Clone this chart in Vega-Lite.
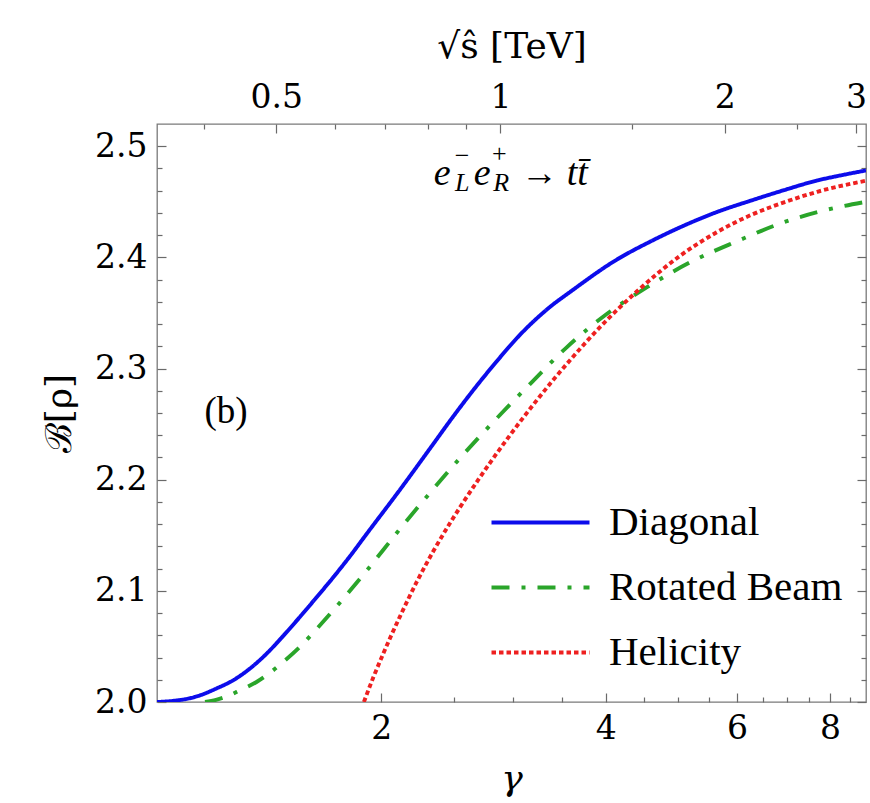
{
  "$schema": "https://vega.github.io/schema/vega-lite/v6.json",
  "width": 709,
  "height": 578,
  "autosize": {"type": "none"},
  "padding": {"left": 157, "top": 124, "right": 4, "bottom": 101},
  "background": "white",
  "config": {
    "font": "serif",
    "view": {"stroke": "#7a7a7a", "strokeWidth": 1.3},
    "axis": {
      "labelFont": "DejaVu Serif",
      "titleFont": "DejaVu Serif",
      "labelFontSize": 33,
      "titleFontSize": 36,
      "titleFontWeight": "normal",
      "labelColor": "#000000",
      "titleColor": "#000000",
      "tickColor": "#6a6a6a",
      "tickWidth": 1.2,
      "domain": false,
      "grid": false,
      "labelFlush": false,
      "labelOverlap": false,
      "labelPadding": 19
    },
    "legend": {
      "labelFont": "serif",
      "labelFontSize": 41,
      "labelColor": "#000000"
    }
  },
  "datasets": {
    "curves": [
      {"basis": "Diagonal", "gamma": 1.0, "B": 2.0},
      {"basis": "Diagonal", "gamma": 1.05, "B": 2.001},
      {"basis": "Diagonal", "gamma": 1.1, "B": 2.003},
      {"basis": "Diagonal", "gamma": 1.142, "B": 2.006},
      {"basis": "Diagonal", "gamma": 1.2, "B": 2.012},
      {"basis": "Diagonal", "gamma": 1.265, "B": 2.0195},
      {"basis": "Diagonal", "gamma": 1.332, "B": 2.03},
      {"basis": "Diagonal", "gamma": 1.403, "B": 2.0435},
      {"basis": "Diagonal", "gamma": 1.477, "B": 2.0595},
      {"basis": "Diagonal", "gamma": 1.555, "B": 2.0765},
      {"basis": "Diagonal", "gamma": 1.634, "B": 2.0935},
      {"basis": "Diagonal", "gamma": 1.724, "B": 2.1122},
      {"basis": "Diagonal", "gamma": 1.815, "B": 2.1311},
      {"basis": "Diagonal", "gamma": 1.912, "B": 2.1514},
      {"basis": "Diagonal", "gamma": 2.119, "B": 2.1911},
      {"basis": "Diagonal", "gamma": 2.349, "B": 2.2323},
      {"basis": "Diagonal", "gamma": 2.486, "B": 2.2551},
      {"basis": "Diagonal", "gamma": 2.631, "B": 2.2769},
      {"basis": "Diagonal", "gamma": 2.85, "B": 2.3057},
      {"basis": "Diagonal", "gamma": 3.071, "B": 2.3305},
      {"basis": "Diagonal", "gamma": 3.37, "B": 2.3556},
      {"basis": "Diagonal", "gamma": 3.585, "B": 2.369},
      {"basis": "Diagonal", "gamma": 4.14, "B": 2.398},
      {"basis": "Diagonal", "gamma": 4.6, "B": 2.4145},
      {"basis": "Diagonal", "gamma": 5.09, "B": 2.4285},
      {"basis": "Diagonal", "gamma": 5.65, "B": 2.441},
      {"basis": "Diagonal", "gamma": 6.26, "B": 2.451},
      {"basis": "Diagonal", "gamma": 6.94, "B": 2.4605},
      {"basis": "Diagonal", "gamma": 7.69, "B": 2.4692},
      {"basis": "Diagonal", "gamma": 8.3, "B": 2.474},
      {"basis": "Diagonal", "gamma": 8.94, "B": 2.4782},
      {"basis": "Rotated Beam", "gamma": 1.16, "B": 2.0},
      {"basis": "Rotated Beam", "gamma": 1.2, "B": 2.002},
      {"basis": "Rotated Beam", "gamma": 1.24, "B": 2.005},
      {"basis": "Rotated Beam", "gamma": 1.292, "B": 2.0105},
      {"basis": "Rotated Beam", "gamma": 1.36, "B": 2.018},
      {"basis": "Rotated Beam", "gamma": 1.403, "B": 2.024},
      {"basis": "Rotated Beam", "gamma": 1.477, "B": 2.036},
      {"basis": "Rotated Beam", "gamma": 1.555, "B": 2.0495},
      {"basis": "Rotated Beam", "gamma": 1.634, "B": 2.065},
      {"basis": "Rotated Beam", "gamma": 1.724, "B": 2.0825},
      {"basis": "Rotated Beam", "gamma": 1.815, "B": 2.1},
      {"basis": "Rotated Beam", "gamma": 1.912, "B": 2.1183},
      {"basis": "Rotated Beam", "gamma": 2.119, "B": 2.1558},
      {"basis": "Rotated Beam", "gamma": 2.349, "B": 2.1918},
      {"basis": "Rotated Beam", "gamma": 2.551, "B": 2.2195},
      {"basis": "Rotated Beam", "gamma": 2.714, "B": 2.2393},
      {"basis": "Rotated Beam", "gamma": 2.887, "B": 2.2584},
      {"basis": "Rotated Beam", "gamma": 3.168, "B": 2.2863},
      {"basis": "Rotated Beam", "gamma": 3.549, "B": 2.3193},
      {"basis": "Rotated Beam", "gamma": 4.017, "B": 2.3493},
      {"basis": "Rotated Beam", "gamma": 4.545, "B": 2.3732},
      {"basis": "Rotated Beam", "gamma": 5.197, "B": 2.3957},
      {"basis": "Rotated Beam", "gamma": 6.0, "B": 2.4145},
      {"basis": "Rotated Beam", "gamma": 6.94, "B": 2.4317},
      {"basis": "Rotated Beam", "gamma": 7.85, "B": 2.4422},
      {"basis": "Rotated Beam", "gamma": 8.94, "B": 2.45},
      {"basis": "Helicity", "gamma": 1.895, "B": 2.0},
      {"basis": "Helicity", "gamma": 1.95, "B": 2.0218},
      {"basis": "Helicity", "gamma": 2.012, "B": 2.0435},
      {"basis": "Helicity", "gamma": 2.064, "B": 2.0605},
      {"basis": "Helicity", "gamma": 2.119, "B": 2.0771},
      {"basis": "Helicity", "gamma": 2.231, "B": 2.108},
      {"basis": "Helicity", "gamma": 2.349, "B": 2.1358},
      {"basis": "Helicity", "gamma": 2.473, "B": 2.161},
      {"basis": "Helicity", "gamma": 2.551, "B": 2.1753},
      {"basis": "Helicity", "gamma": 2.7, "B": 2.2002},
      {"basis": "Helicity", "gamma": 2.948, "B": 2.2363},
      {"basis": "Helicity", "gamma": 3.234, "B": 2.2716},
      {"basis": "Helicity", "gamma": 3.585, "B": 2.3077},
      {"basis": "Helicity", "gamma": 3.975, "B": 2.3407},
      {"basis": "Helicity", "gamma": 4.407, "B": 2.3695},
      {"basis": "Helicity", "gamma": 5.04, "B": 2.4017},
      {"basis": "Helicity", "gamma": 5.65, "B": 2.423},
      {"basis": "Helicity", "gamma": 6.26, "B": 2.438},
      {"basis": "Helicity", "gamma": 6.94, "B": 2.4495},
      {"basis": "Helicity", "gamma": 7.69, "B": 2.459},
      {"basis": "Helicity", "gamma": 8.94, "B": 2.469}
    ],
    "textNormal": [
      {"t": "(b)", "gx": 1.2376, "b": 2.2605},
      {"t": "→", "gx": 3.258, "b": 2.4754}
    ],
    "textItalic": [
      {"t": "e", "gx": 2.413, "b": 2.4754},
      {"t": "e", "gx": 2.731, "b": 2.4754},
      {"t": "tt̄", "gx": 3.664, "b": 2.4754}
    ],
    "smallItalic": [
      {"t": "L", "gx": 2.567, "b": 2.4665},
      {"t": "R", "gx": 2.897, "b": 2.4665}
    ],
    "smallNormal": [
      {"t": "−", "gx": 2.567, "b": 2.491},
      {"t": "+", "gx": 2.879, "b": 2.4934}
    ]
  },
  "layer": [
    {
      "data": {"name": "curves"},
      "mark": {"type": "line", "strokeWidth": 3.9, "interpolate": "monotone", "clip": true},
      "encoding": {
        "x": {
          "field": "gamma",
          "type": "quantitative",
          "scale": {"type": "log", "domain": [1, 8.94], "nice": false},
          "axis": {
            "orient": "bottom",
            "values": [2, 2.5, 3, 3.5, 4, 4.5, 5, 5.5, 6, 6.5, 7, 7.5, 8, 8.5],
            "labelExpr": "(datum.value == 2 || datum.value == 4 || datum.value == 6 || datum.value == 8) ? datum.label : ''",
            "tickSize": {"condition": {"test": "datum.value == 2 || datum.value == 4 || datum.value == 6 || datum.value == 8", "value": -9}, "value": -5},
            "title": "γ",
            "titleFontStyle": "italic",
            "titlePadding": 12
          }
        },
        "y": {
          "field": "B",
          "type": "quantitative",
          "scale": {"domain": [2.0, 2.52], "nice": false, "zero": false},
          "axis": {
            "orient": "left",
            "values": [2.0, 2.02, 2.04, 2.06, 2.08, 2.1, 2.12, 2.14, 2.16, 2.18, 2.2, 2.22, 2.24, 2.26, 2.28, 2.3, 2.32, 2.34, 2.36, 2.38, 2.4, 2.42, 2.44, 2.46, 2.48, 2.5],
            "labelExpr": "abs(datum.value*10 - round(datum.value*10)) < 0.001 ? format(datum.value, '.1f') : ''",
            "tickSize": {"condition": {"test": "abs(datum.value*10 - round(datum.value*10)) < 0.001", "value": -9}, "value": -5},
            "title": "ℬ[ρ]",
            "titlePadding": 16
          }
        },
        "color": {
          "field": "basis",
          "type": "nominal",
          "scale": {"domain": ["Diagonal", "Rotated Beam", "Helicity"], "range": ["#0c0ceb", "#2aa52a", "#ee2020"]},
          "legend": {
            "title": null,
            "orient": "none",
            "legendX": 357,
            "legendY": 372,
            "symbolType": "M-2,0H2",
            "symbolSize": 2401,
            "symbolStrokeWidth": 4,
            "labelOffset": 42,
            "rowPadding": 18,
            "labelLimit": 400,
            "padding": 0
          }
        },
        "strokeDash": {
          "field": "basis",
          "type": "nominal",
          "scale": {"domain": ["Diagonal", "Rotated Beam", "Helicity"], "range": [[1, 0], [18, 12, 4, 12], [4.5, 3]]}
        }
      }
    },
    {
      "data": {"name": "textNormal"},
      "mark": {"type": "text", "font": "serif", "fontSize": 37, "align": "center", "baseline": "middle", "color": "#000000"},
      "encoding": {
        "x": {
          "field": "gx",
          "type": "quantitative",
          "axis": {
            "orient": "top",
            "values": [1.156, 1.445, 1.734, 2.023, 2.312, 2.601, 2.89, 4.335, 5.78, 7.225, 8.671],
            "labelExpr": "datum.value == 1.445 ? '0.5' : datum.value == 2.89 ? '1' : datum.value == 5.78 ? '2' : datum.value == 8.671 ? '3' : ''",
            "tickSize": {"condition": {"test": "datum.value == 1.445 || datum.value == 2.89 || datum.value == 5.78 || datum.value == 8.671", "value": -9}, "value": -5},
            "title": "√ŝ [TeV]",
            "titlePadding": 12
          }
        },
        "y": {
          "field": "b",
          "type": "quantitative",
          "axis": {
            "orient": "right",
            "values": [2.0, 2.02, 2.04, 2.06, 2.08, 2.1, 2.12, 2.14, 2.16, 2.18, 2.2, 2.22, 2.24, 2.26, 2.28, 2.3, 2.32, 2.34, 2.36, 2.38, 2.4, 2.42, 2.44, 2.46, 2.48, 2.5],
            "labels": false,
            "tickSize": {"condition": {"test": "abs(datum.value*10 - round(datum.value*10)) < 0.001", "value": -9}, "value": -5},
            "title": null
          }
        },
        "text": {"field": "t"}
      }
    },
    {
      "data": {"name": "textItalic"},
      "mark": {"type": "text", "font": "serif", "fontStyle": "italic", "fontSize": 38, "align": "center", "baseline": "middle", "color": "#000000"},
      "encoding": {
        "x": {"field": "gx", "type": "quantitative", "axis": null},
        "y": {"field": "b", "type": "quantitative", "axis": null},
        "text": {"field": "t"}
      }
    },
    {
      "data": {"name": "smallItalic"},
      "mark": {"type": "text", "font": "serif", "fontStyle": "italic", "fontSize": 26, "align": "center", "baseline": "middle", "color": "#000000"},
      "encoding": {
        "x": {"field": "gx", "type": "quantitative", "axis": null},
        "y": {"field": "b", "type": "quantitative", "axis": null},
        "text": {"field": "t"}
      }
    },
    {
      "data": {"name": "smallNormal"},
      "mark": {"type": "text", "font": "serif", "fontSize": 26, "align": "center", "baseline": "middle", "color": "#000000"},
      "encoding": {
        "x": {"field": "gx", "type": "quantitative", "axis": null},
        "y": {"field": "b", "type": "quantitative", "axis": null},
        "text": {"field": "t"}
      }
    }
  ],
  "resolve": {"axis": {"x": "independent", "y": "independent"}}
}
